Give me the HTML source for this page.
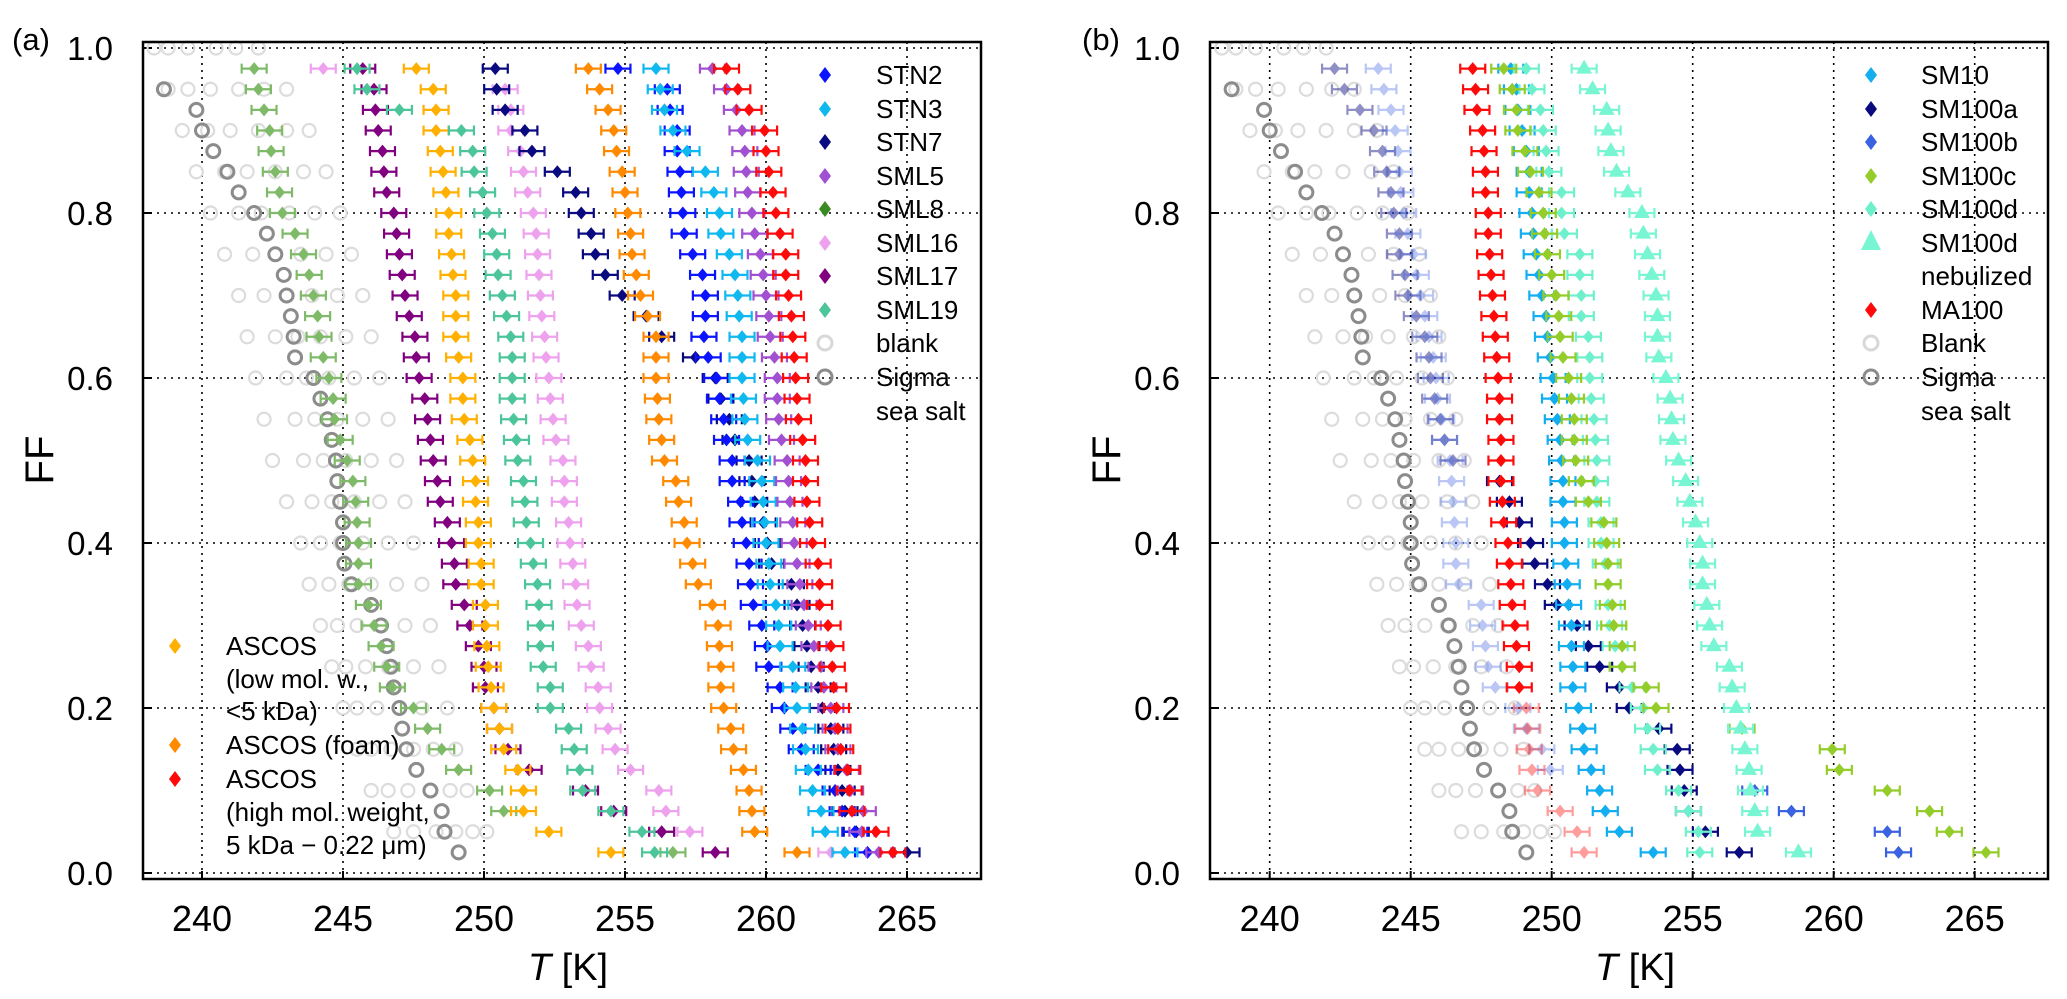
<!DOCTYPE html>
<html><head><meta charset="utf-8"><title>FF vs T</title>
<style>
html,body{margin:0;padding:0;background:#fff;}
svg{display:block;font-family:"Liberation Sans",Arial,sans-serif;}
</style></head>
<body>
<svg id="chart" width="2067" height="999" viewBox="0 0 2067 999" xmlns="http://www.w3.org/2000/svg">
  <rect x="0" y="0" width="2067" height="999" fill="#fff"/>
  <g id="gridA"></g>
  <g id="gridB"></g>
  <g id="marksA"></g>
  <g id="marksB"></g>
  <rect x="143" y="42" width="838" height="837" fill="none" stroke="#000" stroke-width="2.5"/>
  <rect x="1210" y="42" width="838" height="837" fill="none" stroke="#000" stroke-width="2.5"/>
  <text x="12" y="50" font-size="31">(a)</text>
  <text x="1082" y="50" font-size="31">(b)</text>
  <text transform="translate(53,460) rotate(-90)" font-size="40" text-anchor="middle">FF</text>
  <text transform="translate(1120,460) rotate(-90)" font-size="40" text-anchor="middle">FF</text>
  <text x="568" y="980" font-size="38" text-anchor="middle"><tspan font-style="italic">T</tspan> [K]</text>
  <text x="1635" y="980" font-size="38" text-anchor="middle"><tspan font-style="italic">T</tspan> [K]</text>
  <g id="ticksA"></g>
  <g id="ticksB"></g>
  <g id="legendA"></g>
  <g id="legendA2"></g>
  <g id="legendB"></g>
</svg>
<script>
// ---------- data ----------
const xTicks = [240, 245, 250, 255, 260, 265];
const yTicks = [0.0, 0.2, 0.4, 0.6, 0.8, 1.0];
const yTickLabels = ["0.0", "0.2", "0.4", "0.6", "0.8", "1.0"];
const ffLevels = [0.975,0.95,0.925,0.9,0.875,0.85,0.825,0.8,0.775,0.75,0.725,0.7,0.675,0.65,0.625,0.6,0.575,0.55,0.525,0.5,
  0.475,0.45,0.425,0.4,0.375,0.35,0.325,0.3,0.275,0.25,0.225,0.2,0.175,0.15,0.125,0.1,0.075,0.05,0.025];
// panel (a)
const ascosLow = [247.6,248.2,248.3,248.3,248.45,248.55,248.65,248.75,248.75,248.85,248.9,249.0,249.0,249.0,249.1,249.25,249.25,249.3,249.5,249.6,
  249.7,249.7,249.8,249.8,249.9,249.9,250.05,250.05,250.1,250.15,250.25,250.35,250.55,250.7,251.2,251.4,251.4,252.3,254.5];
const ascosFoam = [253.7,254.1,254.4,254.6,254.7,254.9,255.0,255.1,255.2,255.25,255.4,255.55,255.8,256.1,256.1,256.1,256.15,256.2,256.3,256.4,
  256.8,256.9,257.1,257.2,257.4,257.6,258.1,258.3,258.35,258.4,258.4,258.5,258.75,258.85,259.2,259.4,259.5,259.6,261.1];
const ascosHigh = [258.6,259.0,259.4,259.95,260.0,260.1,260.25,260.35,260.5,260.7,260.7,260.8,260.9,260.95,261.0,261.05,261.1,261.15,261.3,261.4,
  261.4,261.45,261.55,261.65,261.85,261.9,261.9,262.2,262.3,262.35,262.4,262.5,262.55,262.65,262.9,262.95,263.05,263.9,264.5];
const stn2 = [254.75,256.5,256.6,256.85,256.85,256.95,257.0,257.05,257.1,257.4,257.75,257.85,257.85,257.8,257.95,258.25,258.35,258.5,258.6,258.8,
  258.8,259.1,259.15,259.3,259.4,259.45,259.55,259.85,260.05,260.1,260.5,260.65,260.95,261.25,261.85,262.45,262.7,263.15,263.6];
const stn3 = [256.1,256.25,256.4,256.7,257.2,257.85,258.15,258.35,258.4,258.7,258.9,259.0,259.05,259.15,259.15,259.15,259.2,259.25,259.35,259.7,
  259.85,259.9,259.95,260.0,260.1,260.15,260.35,260.45,260.5,260.95,261.05,261.1,261.3,261.4,261.5,261.65,261.95,262.1,262.8];
const stn7 = [250.4,250.45,250.75,251.45,251.7,252.6,253.25,253.45,253.8,253.95,254.3,254.9,255.75,256.3,257.5,258.2,258.4,258.7,258.9,259.4,
  259.5,259.6,259.9,260.05,260.2,260.9,261.1,261.3,261.45,261.6,261.85,262.0,262.3,262.4,262.55,262.7,262.8,263.2,265.0];
const sml5 = [258.1,258.6,258.95,259.15,259.25,259.3,259.35,259.5,259.6,259.8,259.9,260.0,260.1,260.15,260.3,260.4,260.4,260.45,260.55,260.75,
  260.8,260.85,260.95,261.0,261.1,261.2,261.35,261.5,261.7,261.95,262.05,262.3,262.45,262.55,262.85,263.0,263.45,263.4,264.0];
const sml8 = [241.85,242.0,242.2,242.4,242.45,242.6,242.75,242.85,243.3,243.6,243.8,243.95,244.1,244.15,244.3,244.5,244.65,244.7,244.9,245.15,
  245.35,245.45,245.5,245.55,245.55,245.55,245.9,246.1,246.35,246.55,246.75,247.5,248.0,248.5,249.1,250.2,250.7,256.3,256.7];
const sml16 = [244.3,250.75,250.95,250.95,251.3,251.4,251.55,251.75,251.85,251.9,251.95,252.0,252.05,252.15,252.2,252.3,252.35,252.45,252.55,252.8,
  252.85,252.85,253.0,253.05,253.15,253.25,253.3,253.45,253.7,253.8,254.05,254.1,254.4,254.65,255.2,256.2,256.45,257.3,262.3];
const sml17 = [245.7,246.1,246.15,246.25,246.4,246.45,246.55,246.8,246.9,247.0,247.1,247.2,247.35,247.55,247.6,247.7,247.9,248.0,248.1,248.2,
  248.35,248.45,248.7,248.85,248.95,249.0,249.3,249.5,249.8,250.0,250.05,250.35,250.55,250.85,251.6,253.6,254.6,256.3,258.2];
const sml19 = [245.5,245.85,247.0,249.2,249.6,249.65,249.95,250.1,250.3,250.45,250.5,250.65,250.8,250.95,251.0,251.0,251.0,251.05,251.15,251.2,
  251.4,251.45,251.5,251.65,251.75,251.9,251.95,252.0,252.0,252.1,252.35,252.35,253.0,253.2,253.4,253.5,254.5,255.6,256.05];
const sigmaSalt = [null,238.65,239.8,240.0,240.4,240.9,241.3,241.85,242.3,242.6,242.9,243.0,243.15,243.25,243.3,243.95,244.2,244.45,244.6,244.75,
  244.8,244.9,245.0,245.0,245.05,245.3,246.0,246.35,246.55,246.7,246.8,247.0,247.1,247.25,247.6,248.1,248.5,248.6,249.1];
// blanks (both panels)
const blankFF = [1.0,0.95,0.9,0.85,0.8,0.75,0.7,0.65,0.6,0.55,0.5,0.45,0.4,0.35,0.3,0.25,0.2,0.15,0.1,0.05];
const blank1 = [238.3,238.8,239.3,239.8,240.3,240.8,241.3,241.6,241.9,242.2,242.5,243.0,243.5,243.8,244.2,244.6,245.0,245.5,246.0,246.8];
const blank2 = [238.8,239.5,240.2,240.8,241.3,241.8,242.2,242.6,243.0,243.3,243.6,243.9,244.2,244.5,244.8,245.1,245.5,246.0,246.6,247.5];
const blank3 = [239.5,240.3,241.0,241.6,242.1,242.6,243.0,243.4,243.7,244.0,244.3,244.6,244.9,245.2,245.5,245.8,246.2,246.7,247.3,248.3];
const blank4 = [240.5,241.3,242.0,242.6,243.1,243.5,243.9,244.2,244.5,244.8,245.1,245.4,245.7,246.0,246.3,246.6,247.0,247.5,248.1,249.0];
const blank5 = [241.2,242.2,243.0,243.6,244.0,244.4,244.8,245.1,245.4,245.7,246.0,246.3,246.6,246.9,247.2,247.5,247.8,248.2,248.8,249.6];
const blank6 = [242.0,243.0,243.8,244.4,244.9,245.3,245.7,246.0,246.3,246.6,246.9,247.2,247.5,247.8,248.1,248.4,248.7,249.0,249.4,250.1];
// panel (b)
const sm10 = [248.55,248.75,248.8,248.95,249.1,249.2,249.2,249.3,249.35,249.45,249.55,249.65,249.8,249.85,249.95,250.05,250.1,250.2,250.3,250.35,
  250.4,250.4,250.45,250.45,250.5,250.55,250.6,250.7,250.7,250.75,250.75,250.95,251.1,251.15,251.4,251.7,251.9,252.4,253.6];
const sm100a = [242.3,242.65,243.2,243.7,244.0,244.15,244.3,244.4,244.6,244.6,244.8,244.9,245.2,245.5,245.65,245.7,245.85,246.05,246.2,246.5,
  248.15,248.5,248.85,249.25,249.4,249.85,250.2,250.9,251.3,251.7,252.4,252.75,253.8,254.45,254.55,254.7,254.85,255.45,256.65];
const sm100b = [243.85,244.05,244.3,244.45,244.55,244.6,244.65,244.75,244.9,245.1,245.2,245.35,245.5,245.65,245.8,245.9,245.95,246.1,246.2,246.4,
  246.45,246.5,246.55,246.6,246.6,246.7,247.5,247.55,247.65,247.75,248.0,248.8,249.1,249.65,249.95,257.2,258.5,261.9,262.3];
const sm100c = [248.3,248.6,248.75,248.8,249.05,249.25,249.55,249.7,249.75,249.85,250.0,250.15,250.25,250.3,250.4,250.6,250.7,250.8,250.8,250.85,
  251.05,251.3,251.85,251.95,252.0,252.0,252.15,252.2,252.5,252.5,253.35,253.7,256.75,259.95,260.2,261.9,263.4,264.1,265.4];
const sm100d = [249.1,249.3,249.6,249.7,249.8,249.9,250.35,250.35,250.45,251.0,251.0,251.05,251.05,251.3,251.35,251.35,251.4,251.5,251.55,251.6,
  251.55,251.6,251.75,251.75,251.9,252.0,252.0,252.05,252.25,252.5,252.85,253.25,253.4,253.6,253.75,254.5,254.85,255.2,255.25];
const sm100dNeb = [251.15,251.45,251.95,252.0,252.1,252.3,252.7,253.2,253.25,253.4,253.55,253.7,253.75,253.75,253.8,254.05,254.2,254.25,254.3,254.5,
  254.75,254.9,255.1,255.25,255.35,255.35,255.5,255.6,255.75,256.3,256.4,256.55,256.7,256.85,257.0,257.05,257.2,257.3,258.75];
const ma100 = [247.2,247.3,247.35,247.55,247.6,247.65,247.65,247.75,247.75,247.8,247.85,247.9,247.95,248.0,248.05,248.1,248.15,248.15,248.2,248.2,
  248.2,248.25,248.3,248.45,248.5,248.55,248.6,248.7,248.75,248.85,248.85,249.1,249.15,249.2,249.3,249.5,250.3,250.9,251.15];

// ---------- drawing ----------
const NS = "http://www.w3.org/2000/svg";
const panelA = {x0: 202, id: "a"};
const panelB = {x0: 1269.7, id: "b"};
const PX_PER_K = 28.2;
function xScale(p, T) { return p.x0 + (T - 240) * PX_PER_K; }
function yScale(ff) { return 873 - ff * 825; }
function mk(tag, attrs, parent) {
  const el = document.createElementNS(NS, tag);
  for (const k in attrs) el.setAttribute(k, attrs[k]);
  parent.appendChild(el);
  return el;
}

function drawGrid(p, g, tg) {
  const left = p.id === "a" ? 143 : 1210, right = left + 838;
  xTicks.forEach(function (t) {
    const x = xScale(p, t);
    const gl = mk("line", {x1: x, y1: 42, x2: x, y2: 879, stroke: "#000", "stroke-width": 1.6, "stroke-dasharray": "2 5"}, g);
    
    
    const tk = mk("line", {x1: x, y1: 879, x2: x, y2: 871, stroke: "#000", "stroke-width": 2}, g);
    
    
    const lb = mk("text", {x: x, y: 931, "font-size": 36, "text-anchor": "middle"}, tg);
    lb.textContent = String(t);
    
    
  });
  yTicks.forEach(function (v, i) {
    const y = yScale(v);
    const gl = mk("line", {x1: left, y1: y, x2: right, y2: y, stroke: "#000", "stroke-width": 1.6, "stroke-dasharray": "2 5"}, g);
    
    
    const tk = mk("line", {x1: left, y1: y, x2: left + 9, y2: y, stroke: "#000", "stroke-width": 2}, g);
    
    
    const lb = mk("text", {x: left - 30, y: y + 12, "font-size": 33, "text-anchor": "end"}, tg);
    lb.textContent = yTickLabels[i];
    
    
  });
}

function circles(p, g, ffs, Ts, color, sw, name) {
  const grp = mk("g", {}, g);
  
  
  Ts.forEach(function (T, i) {
    if (T === null) return;
    const c = mk("circle", {cx: xScale(p, T), cy: yScale(ffs[i]), r: 6.5, fill: "none", stroke: color, "stroke-width": sw}, grp);
    
    
  });
}

function diamondPts(x, y, w, h) {
  return (x) + "," + (y - h) + " " + (x + w) + "," + y + " " + x + "," + (y + h) + " " + (x - w) + "," + y;
}

function errSeries(p, g, Ts, color, name, opts) {
  opts = opts || {};
  const grp = mk("g", {}, g);
  
  
  Ts.forEach(function (T, i) {
    if (T === null) return;
    const ff = ffLevels[i];
    const x = xScale(p, T), y = yScale(ff);
    const op = opts.fade ? opts.fade(ff) : 1;
    const pt = mk("g", {opacity: op}, grp);
    
    
    const eb = 12.5;
    mk("path", {d: "M" + (x - eb) + "," + y + "H" + (x + eb) + "M" + (x - eb) + "," + (y - 5) + "V" + (y + 5) + "M" + (x + eb) + "," + (y - 5) + "V" + (y + 5),
      stroke: color, "stroke-width": 2.2, fill: "none"}, pt);
    if (opts.tri) {
      mk("polygon", {points: x + "," + (y - 9) + " " + (x + 8) + "," + (y + 5) + " " + (x - 8) + "," + (y + 5), fill: color}, pt);
    } else {
      mk("polygon", {points: diamondPts(x, y, 5.5, 6.5), fill: color}, pt);
    }
  });
}

const gA = document.getElementById("gridA"), gB = document.getElementById("gridB");
drawGrid(panelA, gA, document.getElementById("ticksA"));
drawGrid(panelB, gB, document.getElementById("ticksB"));

const mA = document.getElementById("marksA"), mB = document.getElementById("marksB");
const blanks = [blank1, blank2, blank3, blank4, blank5, blank6];
[[panelA, mA], [panelB, mB]].forEach(function (pm) {
  blanks.forEach(function (b) { circles(pm[0], pm[1], blankFF, b, "#dcdcdc", 2.2, "blank-series"); });
  circles(pm[0], pm[1], ffLevels, sigmaSalt, "#8c8c8c", 3, "sigma-sea-salt-series");
});

errSeries(panelA, mA, sml8, "#7fba68", "sml8-series");
errSeries(panelA, mA, sml17, "#800080", "sml17-series");
errSeries(panelA, mA, ascosLow, "#ffb000", "ascos-low-series");
errSeries(panelA, mA, sml19, "#4cc59a", "sml19-series");
errSeries(panelA, mA, sml16, "#eea2ee", "sml16-series");
errSeries(panelA, mA, stn7, "#0a0a80", "stn7-series");
errSeries(panelA, mA, ascosFoam, "#ff8a00", "ascos-foam-series");
errSeries(panelA, mA, stn2, "#0a14ff", "stn2-series");
errSeries(panelA, mA, stn3, "#10b8f0", "stn3-series");
errSeries(panelA, mA, sml5, "#a050d0", "sml5-series");
errSeries(panelA, mA, ascosHigh, "#ff0a0a", "ascos-high-series");

errSeries(panelB, mB, sm100a, "#0a0a80", "sm100a-series", {fade: function (ff) { return ff > 0.49 ? 0.45 : 1; }});
errSeries(panelB, mB, sm100b, "#3b62e0", "sm100b-series", {fade: function (ff) { return ff > 0.105 ? 0.35 : 1; }});
errSeries(panelB, mB, ma100, "#ff0a0a", "ma100-series", {fade: function (ff) { return ff < 0.21 ? 0.4 : 1; }});
errSeries(panelB, mB, sm10, "#12aef0", "sm10-series");
errSeries(panelB, mB, sm100d, "#6ff0cc", "sm100d-series");
errSeries(panelB, mB, sm100c, "#94cc2a", "sm100c-series");
errSeries(panelB, mB, sm100dNeb, "#78f5d2", "sm100d-nebulized-series", {tri: true});

// ---------- legends ----------
function legendEntry(g, mx, tx, y, color, label, kind, name) {
  const e = mk("g", {}, g);
  
  
  if (kind === "d") mk("polygon", {points: diamondPts(mx, y - 9, 6, 8), fill: color}, e);
  else if (kind === "t") mk("polygon", {points: mx + "," + (y - 22) + " " + (mx + 10) + "," + (y - 2) + " " + (mx - 10) + "," + (y - 2), fill: color}, e);
  else if (kind === "c") mk("circle", {cx: mx, cy: y - 9, r: 7, fill: "none", stroke: color, "stroke-width": 3}, e);
  if (label) {
    const t = mk("text", {x: tx, y: y, "font-size": 26}, e);
    t.textContent = label;
  }
}
const lA = document.getElementById("legendA");
legendEntry(lA, 825, 876, 84, "#0a14ff", "STN2", "d", "legend-stn2");
legendEntry(lA, 825, 876, 118, "#10b8f0", "STN3", "d", "legend-stn3");
legendEntry(lA, 825, 876, 151, "#0a0a80", "STN7", "d", "legend-stn7");
legendEntry(lA, 825, 876, 185, "#a050d0", "SML5", "d", "legend-sml5");
legendEntry(lA, 825, 876, 218, "#3a8a22", "SML8", "d", "legend-sml8");
legendEntry(lA, 825, 876, 252, "#eea2ee", "SML16", "d", "legend-sml16");
legendEntry(lA, 825, 876, 285, "#800080", "SML17", "d", "legend-sml17");
legendEntry(lA, 825, 876, 319, "#4cc59a", "SML19", "d", "legend-sml19");
legendEntry(lA, 825, 876, 352, "#d8d8d8", "blank", "c", "legend-blank");
legendEntry(lA, 825, 876, 386, "#8c8c8c", "Sigma", "c", "legend-sigma");
legendEntry(lA, 825, 876, 420, "", "sea salt", "", "legend-sigma-line2");

const lA2 = document.getElementById("legendA2");
legendEntry(lA2, 175, 226, 655, "#ffb000", "ASCOS", "d", "legend-ascos-low");
legendEntry(lA2, 175, 226, 688, "", "(low mol. w.,", "", "legend-ascos-low-line2");
legendEntry(lA2, 175, 226, 720, "", "<5 kDa)", "", "legend-ascos-low-line3");
legendEntry(lA2, 175, 226, 754, "#ff8a00", "ASCOS (foam)", "d", "legend-ascos-foam");
legendEntry(lA2, 175, 226, 788, "#ff0a0a", "ASCOS", "d", "legend-ascos-high");
legendEntry(lA2, 175, 226, 821, "", "(high mol. weight,", "", "legend-ascos-high-line2");
legendEntry(lA2, 175, 226, 854, "", "5 kDa \u2212 0.22 \u03bcm)", "", "legend-ascos-high-line3");

const lB = document.getElementById("legendB");
legendEntry(lB, 1871, 1921, 84, "#12aef0", "SM10", "d", "legend-sm10");
legendEntry(lB, 1871, 1921, 118, "#0a0a80", "SM100a", "d", "legend-sm100a");
legendEntry(lB, 1871, 1921, 151, "#3b62e0", "SM100b", "d", "legend-sm100b");
legendEntry(lB, 1871, 1921, 185, "#94cc2a", "SM100c", "d", "legend-sm100c");
legendEntry(lB, 1871, 1921, 218, "#6ff0cc", "SM100d", "d", "legend-sm100d");
legendEntry(lB, 1871, 1921, 252, "#78f5d2", "SM100d", "t", "legend-sm100d-nebulized");
legendEntry(lB, 1871, 1921, 285, "", "nebulized", "", "legend-sm100d-nebulized-line2");
legendEntry(lB, 1871, 1921, 319, "#ff0a0a", "MA100", "d", "legend-ma100");
legendEntry(lB, 1871, 1921, 352, "#d8d8d8", "Blank", "c", "legend-blank-b");
legendEntry(lB, 1871, 1921, 386, "#8c8c8c", "Sigma", "c", "legend-sigma-b");
legendEntry(lB, 1871, 1921, 420, "", "sea salt", "", "legend-sigma-b-line2");
</script>
</body></html>
